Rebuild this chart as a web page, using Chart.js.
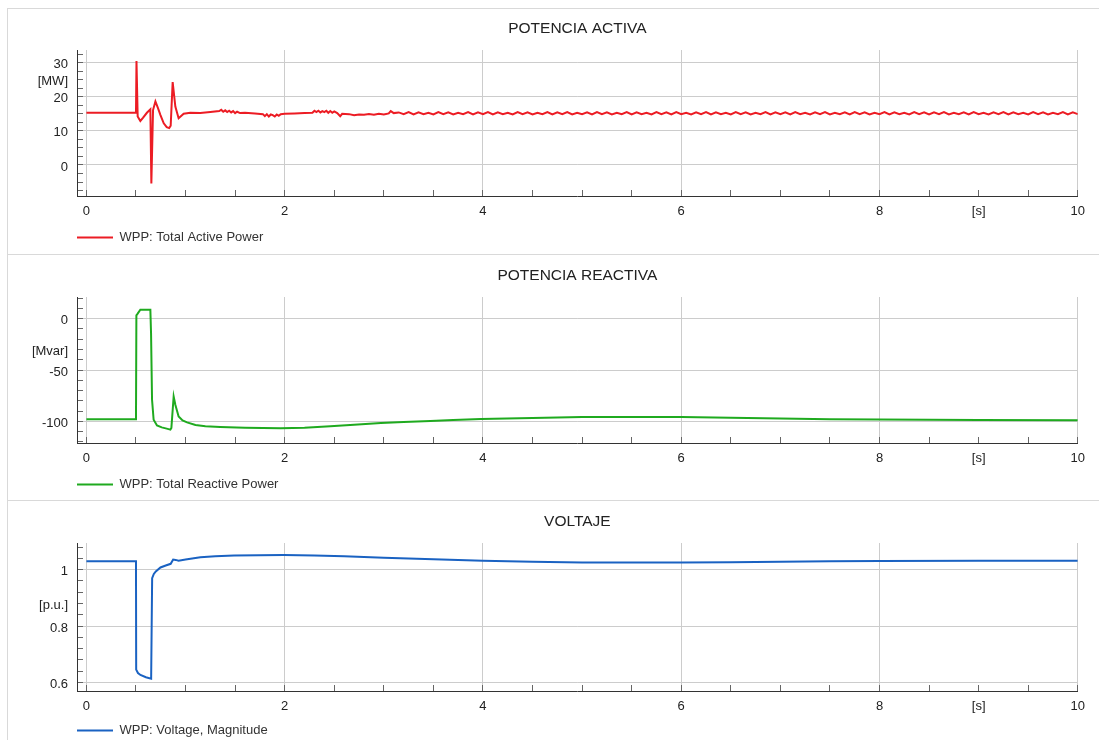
<!DOCTYPE html>
<html>
<head>
<meta charset="utf-8">
<script src="https://cdn.jsdelivr.net/npm/chart.js@4.4.1/dist/chart.umd.min.js"></script>
<style>
  html, body { margin: 0; padding: 0; background: #fff; overflow: hidden; }
  body { width: 1099px; height: 740px; position: relative; }
  .frame { position: absolute; left: 7px; top: 8px; width: 1092px; height: 740px; border-left: 1px solid #d9d9d9; border-top: 1px solid #d9d9d9; box-sizing: border-box; }
  .sep { position: absolute; left: 7px; width: 1092px; height: 1px; background: #d9d9d9; }
  canvas { position: absolute; left: 8px; }
</style>
</head>
<body>
<div class="frame"></div>
<div class="sep" style="top:254px"></div>
<div class="sep" style="top:500px"></div>
<canvas id="activeChart" width="1091" height="246" style="top:8px"></canvas>
<canvas id="reactiveChart" width="1091" height="246" style="top:255px"></canvas>
<canvas id="voltageChart" width="1091" height="246" style="top:501px"></canvas>
<script>
// time axis (s)
const xLabelTicks = [0, 2, 4, 6, 8, 10];
const xUnitTick = 9;

// WPP: Total Active Power [MW]
const activeTime = [
  0, 0.5, 0.505, 0.517, 0.544, 0.57, 0.61, 0.645, 0.655, 0.672,
  0.696, 0.72, 0.746, 0.78, 0.81, 0.835, 0.85, 0.87, 0.897, 0.93,
  0.981, 1.048, 1.149, 1.25, 1.34, 1.36, 1.38, 1.4, 1.42, 1.44,
  1.46, 1.48, 1.5, 1.52, 1.55, 1.6, 1.7, 1.78, 1.8, 1.82,
  1.84, 1.86, 1.88, 1.9, 1.92, 1.94, 1.96, 2, 2.1, 2.2,
  2.28, 2.3, 2.32, 2.34, 2.36, 2.38, 2.4, 2.42, 2.44, 2.46,
  2.48, 2.5, 2.53, 2.56, 2.58, 2.65, 2.7, 2.75, 2.8, 2.85,
  2.9, 2.95, 3, 3.05, 3.07, 3.1,
  3.15, 3.2, 3.25, 3.3, 3.35, 3.4, 3.45, 3.5, 3.55, 3.6,
  3.65, 3.7, 3.75, 3.8, 3.85, 3.9, 3.95, 4,
  4.05, 4.1, 4.15, 4.2, 4.25, 4.3, 4.35, 4.4, 4.45, 4.5,
  4.55, 4.6, 4.65, 4.7, 4.75, 4.8, 4.85, 4.9, 4.95, 5,
  5.05, 5.1, 5.15, 5.2, 5.25, 5.3, 5.35, 5.4, 5.45, 5.5,
  5.55, 5.6, 5.65, 5.7, 5.75, 5.8, 5.85, 5.9, 5.95, 6,
  6.05, 6.1, 6.15, 6.2, 6.25, 6.3, 6.35, 6.4, 6.45, 6.5,
  6.55, 6.6, 6.65, 6.7, 6.75, 6.8, 6.85, 6.9, 6.95, 7,
  7.05, 7.1, 7.15, 7.2, 7.25, 7.3, 7.35, 7.4, 7.45, 7.5,
  7.55, 7.6, 7.65, 7.7, 7.75, 7.8, 7.85, 7.9, 7.95, 8,
  8.05, 8.1, 8.15, 8.2, 8.25, 8.3, 8.35, 8.4, 8.45, 8.5,
  8.55, 8.6, 8.65, 8.7, 8.75, 8.8, 8.85, 8.9, 8.95, 9,
  9.05, 9.1, 9.15, 9.2, 9.25, 9.3, 9.35, 9.4, 9.45, 9.5,
  9.55, 9.6, 9.65, 9.7, 9.75, 9.8, 9.85, 9.9, 9.95, 10,
];
const activeMW = [
  15.3, 15.3, 30.5, 14.2, 12.9, 13.8, 15.3, 16.3, -5.4, 16.1,
  18.6, 16.8, 14.7, 12.2, 11.1, 10.8, 11.5, 24.3, 17.1, 13.7,
  15.0, 15.3, 15.2, 15.5, 15.8, 16.2, 15.6, 16.0, 15.5, 15.9,
  15.4, 15.8, 15.2, 15.6, 15.2, 15.3, 15.1, 14.9, 14.3, 14.9,
  14.2, 14.8, 14.6, 14.2, 14.8, 14.4, 14.9, 15.0, 15.1, 15.2,
  15.3, 15.9, 15.5, 15.9, 15.4, 15.8, 15.5, 15.9, 15.3, 15.8,
  15.3, 15.7, 15.2, 14.3, 15.0, 14.9, 14.6, 14.8, 14.7, 14.9,
  14.7, 15.0, 14.8, 15.1, 15.8, 15.2,
  15.4, 14.9, 15.5, 14.8, 15.4, 14.9, 15.3, 14.8, 15.5, 14.9,
  15.4, 14.8, 15.3, 14.9, 15.5, 14.8, 15.4, 14.9,
  15.5, 14.8, 15.4, 14.9, 15.3, 14.8, 15.5, 14.9, 15.4, 14.8,
  15.3, 14.9, 15.5, 14.8, 15.4, 14.9, 15.5, 14.8, 15.3, 14.9,
  15.4, 14.8, 15.5, 14.9, 15.4, 14.8, 15.3, 14.9, 15.5, 14.8,
  15.4, 14.9, 15.3, 14.8, 15.5, 14.9, 15.4, 14.8, 15.5, 14.9,
  15.3, 14.8, 15.4, 14.9, 15.5, 14.8, 15.4, 14.9, 15.3, 14.8,
  15.5, 14.9, 15.4, 14.8, 15.3, 14.9, 15.5, 14.8, 15.4, 14.9,
  15.4, 14.8, 15.5, 14.9, 15.3, 14.8, 15.4, 14.9, 15.5, 14.8,
  15.3, 14.9, 15.4, 14.8, 15.5, 14.9, 15.4, 14.8, 15.3, 14.9,
  15.5, 14.8, 15.4, 14.9, 15.3, 14.8, 15.5, 14.9, 15.4, 14.8,
  15.4, 14.9, 15.5, 14.8, 15.3, 14.9, 15.4, 14.8, 15.5, 14.9,
  15.3, 14.8, 15.4, 14.9, 15.5, 14.8, 15.4, 14.9, 15.3, 14.8,
  15.5, 14.9, 15.4, 14.8, 15.3, 14.9, 15.5, 14.8, 15.4, 14.9,
];
const activeLabelTicks = [0, 10, 20, 30];
const activeUnitTick = 25;

// WPP: Total Reactive Power [Mvar]
const reactiveTime = [
  0, 0.5, 0.504, 0.517, 0.544, 0.645, 0.652, 0.662, 0.678, 0.712,
  0.76, 0.81, 0.847, 0.857, 0.88, 0.897, 0.93, 0.97, 1.015, 1.1,
  1.2, 1.35, 1.6, 1.96, 2.2, 2.46, 2.7, 2.97, 3.2, 3.47,
  3.7, 3.98, 4.5, 5, 5.5, 6, 6.5, 7, 7.5, 8,
  9, 10,
];
const reactiveMvar = [
  -98, -98, 3.2, 4.8, 8.7, 8.7, -14.5, -79, -98.4, -104,
  -105.8, -107, -108, -106.4, -75.8, -83.8, -95.2, -99, -101, -103.5,
  -104.6, -105.4, -106.2, -106.6, -106.2, -104.8, -103.2, -101.5, -100.5, -99.6,
  -98.6, -97.7, -96.6, -95.8, -95.7, -95.8, -96.5, -97.2, -97.8, -98.2,
  -98.6, -98.8,
];
const reactiveLabelTicks = [-100, -50, 0];
const reactiveUnitTick = -30;

// WPP: Voltage, Magnitude [p.u.]
const voltageTime = [
  0, 0.5, 0.502, 0.52, 0.545, 0.6, 0.653, 0.663, 0.68, 0.7,
  0.747, 0.8, 0.85, 0.875, 0.9, 0.93, 1, 1.15, 1.3, 1.49,
  1.99, 2.3, 2.6, 3, 3.5, 4, 4.5, 5, 5.5, 6,
  6.5, 7, 7.5, 8, 9, 10,
];
const voltagePU = [
  1.03, 1.03, 0.645, 0.633, 0.626, 0.618, 0.613, 0.97, 0.985, 0.994,
  1.008, 1.015, 1.021, 1.036, 1.035, 1.032, 1.036, 1.044, 1.048, 1.051,
  1.052, 1.051, 1.048, 1.043, 1.037, 1.032, 1.028, 1.026, 1.026, 1.026,
  1.027, 1.028, 1.030, 1.031, 1.032, 1.032,
];
const voltageLabelTicks = [0.6, 0.8, 1];
const voltageUnitTick = 0.88;

const FONT = "'Liberation Sans', Arial, sans-serif";
const GRID = "#cccccc";
const TICK_MARK = "#666666";
const AXIS_LINE = "#333333";
const TEXT = "#222222";

const near = (a, b) => Math.abs(a - b) < 1e-6;
const inList = (v, list) => list.some((m) => near(m, v));

function tickValues(min, max, step) {
  const out = [];
  const first = Math.ceil(min / step - 1e-9) * step;
  for (let v = first; v <= max + 1e-9; v += step) out.push({ value: Math.round(v * 1000) / 1000 });
  return out;
}

// legend line starts right under the y axis, like the original tool
const legendUnderAxis = {
  id: "legendUnderAxis",
  afterLayout(chart) {
    const lg = chart.legend;
    if (!lg) return;
    const dx = chart.chartArea.left - lg.options.labels.padding - lg.left;
    lg.left += dx;
    lg.right += dx;
  },
};

function makeAxis(cfg) {
  return {
    type: "linear",
    min: cfg.min,
    max: cfg.max,
    afterBuildTicks: (scale) => {
      scale.ticks = tickValues(cfg.min, cfg.max, cfg.step);
    },
    afterFit: cfg.afterFit,
    border: { display: true, color: AXIS_LINE, width: 1 },
    grid: {
      color: (c) => (c.tick && inList(c.tick.value, cfg.labels) ? GRID : "rgba(0,0,0,0)"),
      tickColor: TICK_MARK,
      tickLength: -6,
      lineWidth: 1,
    },
    ticks: {
      autoSkip: false,
      maxRotation: 0,
      padding: cfg.padding,
      labelOffset: cfg.labelOffset || 0,
      color: TEXT,
      font: { family: FONT, size: 13 },
      callback: (value) => {
        if (near(value, cfg.unitAt)) return cfg.unit;
        if (inList(value, cfg.labels)) return String(Math.round(value * 100) / 100);
        return "";
      },
    },
  };
}

function createPanel(canvasId, title, label, color, times, values, yCfg, xAxisHeight) {
  const canvas = document.getElementById(canvasId);
  if (!canvas) return;
  const ctx = canvas.getContext("2d");

  const points = times.map((t, i) => ({ x: t, y: values[i] }));

  new Chart(ctx, {
    type: "line",
    data: {
      datasets: [
        {
          label: label,
          data: points,
          borderColor: color,
          backgroundColor: color,
          borderWidth: 2,
          pointRadius: 0,
          tension: 0,
          fill: false,
        },
      ],
    },
    plugins: [legendUnderAxis],
    options: {
      responsive: false,
      animation: false,
      layout: { padding: { left: 0, right: 21, top: 0, bottom: 0 } },
      plugins: {
        title: {
          display: true,
          text: title,
          fullSize: false,
          color: TEXT,
          font: { family: FONT, size: 15.5, weight: "normal" },
          padding: { top: 11.1, bottom: 12.3 },
        },
        legend: {
          display: true,
          position: "bottom",
          align: "start",
          labels: {
            usePointStyle: true,
            pointStyle: "line",
            pointStyleWidth: 36,
            padding: 10,
            color: "#333333",
            font: { family: FONT, size: 13 },
          },
        },
        tooltip: { enabled: false },
      },
      scales: {
        x: makeAxis({
          min: -0.095, max: 10, step: 0.5,
          labels: xLabelTicks, unitAt: xUnitTick, unit: "[s]",
          padding: 14,
          afterFit: (s) => { s.height = xAxisHeight; },
        }),
        y: makeAxis({
          min: yCfg.min, max: yCfg.max, step: yCfg.step,
          labels: yCfg.labels, unitAt: yCfg.unitAt, unit: yCfg.unit,
          padding: 15, labelOffset: 2,
          afterFit: (s) => { s.width = 69; },
        }),
      },
    },
  });
}

createPanel("activeChart", "POTENCIA ACTIVA", "WPP: Total Active Power", "#ec1c24",
  activeTime, activeMW,
  { min: -9.1, max: 33.7, step: 2.5, labels: activeLabelTicks, unitAt: activeUnitTick, unit: "[MW]" }, 25);

createPanel("reactiveChart", "POTENCIA REACTIVA", "WPP: Total Reactive Power", "#1faa1f",
  reactiveTime, reactiveMvar,
  { min: -121, max: 21, step: 10, labels: reactiveLabelTicks, unitAt: reactiveUnitTick, unit: "[Mvar]" }, 25);

createPanel("voltageChart", "VOLTAJE", "WPP: Voltage, Magnitude", "#1a62c2",
  voltageTime, voltagePU,
  { min: 0.569, max: 1.095, step: 0.04, labels: voltageLabelTicks, unitAt: voltageUnitTick, unit: "[p.u.]" }, 23);
</script>
</body>
</html>
